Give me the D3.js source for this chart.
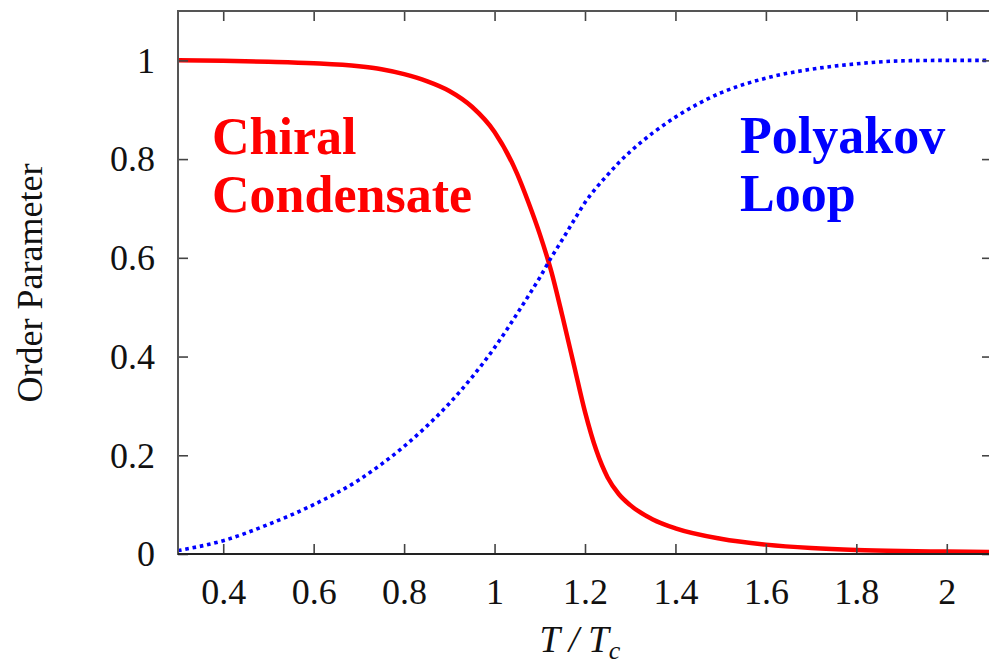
<!DOCTYPE html>
<html>
<head>
<meta charset="utf-8">
<script src="https://cdn.jsdelivr.net/npm/d3@7"></script>
<style>
  html, body { margin: 0; padding: 0; background: #fff; overflow: hidden; }
  svg { display: block; }
</style>
</head>
<body>
<svg id="chart" width="989" height="664"></svg>
<script>
// Reduced temperature grid T / Tc
const temperature = [0.3, 0.4, 0.5, 0.6, 0.7, 0.75, 0.8, 0.85, 0.9, 0.95, 1.0, 1.05, 1.075, 1.1, 1.125, 1.15, 1.175, 1.2, 1.225, 1.25, 1.275, 1.3, 1.35, 1.4, 1.5, 1.6, 1.7, 1.8, 1.9, 2.0, 2.1];

// Chiral condensate (normalised)
const chiralCondensate = [1.000, 0.999, 0.997, 0.994, 0.988, 0.982, 0.972, 0.958, 0.938, 0.906, 0.855, 0.770, 0.712, 0.648, 0.574, 0.482, 0.385, 0.288, 0.210, 0.155, 0.121, 0.099, 0.070, 0.052, 0.031, 0.019, 0.012, 0.008, 0.006, 0.005, 0.004];

// Polyakov loop expectation value
const polyakovLoop = [0.007, 0.027, 0.060, 0.100, 0.150, 0.182, 0.218, 0.259, 0.305, 0.358, 0.418, 0.487, 0.523, 0.560, 0.600, 0.637, 0.675, 0.712, 0.742, 0.768, 0.793, 0.815, 0.853, 0.885, 0.934, 0.964, 0.982, 0.993, 0.999, 1.000, 1.000];

const xTicks = [0.4, 0.6, 0.8, 1, 1.2, 1.4, 1.6, 1.8, 2];
const yTicks = [0, 0.2, 0.4, 0.6, 0.8, 1];

const svg = d3.select("#chart");
const plotLeft = 178, plotRight = 992, plotTop = 11, plotBottom = 554;

const x = d3.scaleLinear().domain([0.3, 2.1]).range([plotLeft, plotRight]);
const y = d3.scaleLinear().domain([0, 1.1]).range([plotBottom, plotTop]);

const fmt = d => String(d);
const serif = "'Liberation Serif', 'Times New Roman', serif";

// clip region for the curves
svg.append("defs").append("clipPath").attr("id", "plot")
  .append("rect").attr("x", plotLeft).attr("y", plotTop)
  .attr("width", plotRight - plotLeft).attr("height", plotBottom - plotTop);

// Curves
const series = [
  { values: chiralCondensate, color: "#ff0000", width: 4.5, dash: null },
  { values: polyakovLoop, color: "#0000ff", width: 3.6, dash: "3.6 3.8" }
];
const line = d3.line().curve(d3.curveMonotoneX);
const g = svg.append("g").attr("clip-path", "url(#plot)");
series.forEach(s => {
  g.append("path")
    .attr("d", line(temperature.map((t, i) => [x(t), y(s.values[i])])))
    .attr("fill", "none")
    .attr("stroke", s.color)
    .attr("stroke-width", s.width)
    .attr("stroke-dasharray", s.dash)
    .attr("stroke-linejoin", "round");
});

// Axes with inward ticks
const xBottom = d3.axisBottom(x).tickValues(xTicks).tickSize(-10).tickFormat(fmt);
const xTop = d3.axisTop(x).tickValues(xTicks).tickSize(-10).tickFormat("");
const yLeft = d3.axisLeft(y).tickValues(yTicks).tickSize(-10).tickFormat(fmt);
const yRight = d3.axisRight(y).tickValues(yTicks).tickSize(-10).tickFormat("");

function style(sel) {
  sel.select(".domain").remove();
  sel.selectAll(".tick line").attr("stroke", "#444").attr("stroke-width", 1.6);
  sel.selectAll(".tick text").attr("font-family", serif).attr("font-size", 36).attr("fill", "#111");
}
svg.append("g").attr("transform", `translate(0,${plotBottom})`).call(xBottom).call(style)
  .selectAll(".tick text").attr("dy", null).attr("y", 50);
svg.append("g").attr("transform", `translate(0,${plotTop})`).call(xTop).call(style);
svg.append("g").attr("transform", `translate(${plotLeft},0)`).call(yLeft).call(style)
  .selectAll(".tick text").attr("dy", "0.33em").attr("x", -23);
svg.append("g").attr("transform", `translate(${plotRight},0)`).call(yRight).call(style);

// Frame
svg.append("rect").attr("x", plotLeft).attr("y", plotTop)
  .attr("width", plotRight - plotLeft).attr("height", plotBottom - plotTop)
  .attr("fill", "none").attr("stroke", "#555").attr("stroke-width", 2);
svg.append("line").attr("x1", plotLeft).attr("x2", plotRight).attr("y1", plotBottom).attr("y2", plotBottom)
  .attr("stroke", "#222").attr("stroke-width", 2.2);

// Axis titles
svg.append("text")
  .attr("transform", "translate(42,283) rotate(-90)")
  .attr("text-anchor", "middle")
  .attr("font-family", serif).attr("font-size", 36).attr("fill", "#111")
  .text("Order Parameter");

const xt = svg.append("text")
  .attr("x", 580).attr("y", 652)
  .attr("text-anchor", "middle")
  .attr("font-family", serif).attr("font-size", 37).attr("font-style", "italic").attr("fill", "#111");
xt.append("tspan").text("T / T");
xt.append("tspan").attr("font-size", 26).attr("dy", 7).text("c");

// Curve annotations
const ann = [
  { lines: ["Chiral", "Condensate"], x: 212, y: 154, color: "#ff0000" },
  { lines: ["Polyakov", "Loop"], x: 740, y: 153, color: "#0000ff" }
];
ann.forEach(a => {
  a.lines.forEach((t, i) => {
    svg.append("text")
      .attr("x", a.x).attr("y", a.y + i * 58)
      .attr("font-family", serif).attr("font-weight", "bold").attr("font-size", 52)
      .attr("fill", a.color)
      .text(t);
  });
});
</script>
</body>
</html>
